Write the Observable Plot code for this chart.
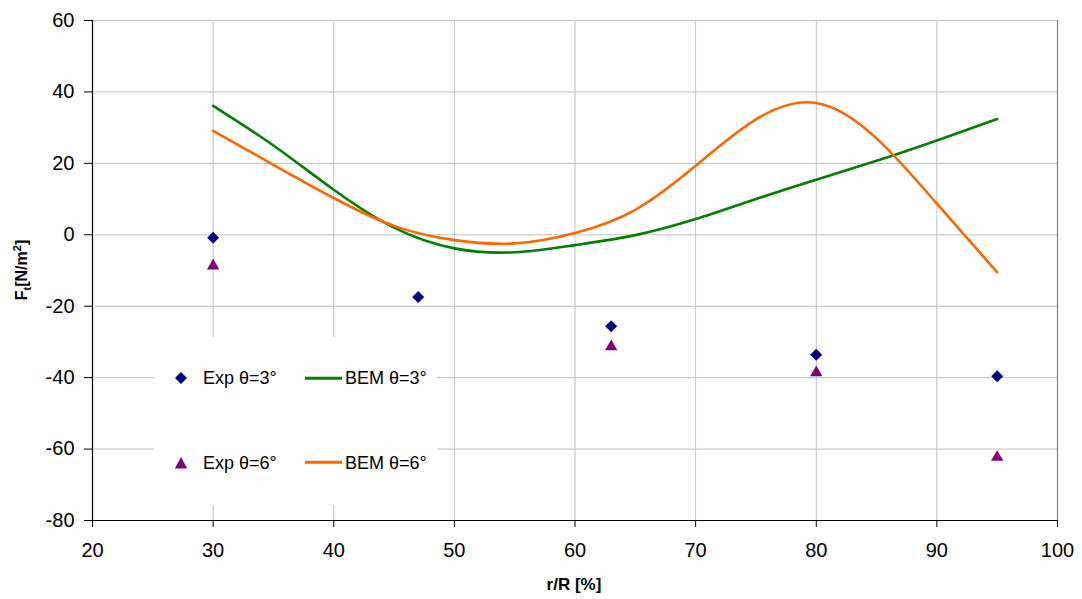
<!DOCTYPE html>
<html>
<head>
<meta charset="utf-8">
<script src="https://cdn.jsdelivr.net/npm/d3@7"></script>
<script src="https://cdn.jsdelivr.net/npm/@observablehq/plot@0.6"></script>
<style>
  html, body { margin: 0; padding: 0; background: #fff; }
  #wrap { position: relative; width: 1082px; height: 599px; font-family: "Liberation Sans", Arial, sans-serif; color: #000; }
  #legend { position: absolute; left: 154px; top: 337px; width: 283px; height: 168px; background: #fff; }
  .lg { position: absolute; font-size: 18px; line-height: 1; white-space: nowrap; transform: translateY(-50%); }
  .sym { position: absolute; transform: translate(-50%, -50%); }
  .ln { position: absolute; height: 2.5px; width: 37px; transform: translateY(-50%); }
  #ytitle { position: absolute; left: 22px; top: 270px; transform: translate(-50%, -50%) rotate(-90deg); font-weight: bold; font-size: 16px; white-space: nowrap; }
  #ytitle sub, #ytitle sup { font-size: 11px; }
  #xtitle { position: absolute; left: 574px; top: 585px; transform: translate(-50%, -50%); font-weight: bold; font-size: 17px; white-space: nowrap; }
</style>
</head>
<body>
<div id="wrap"></div>
<script>
// Tick values
const xTicks = [20, 30, 40, 50, 60, 70, 80, 90, 100];
const yTicks = [-80, -60, -40, -20, 0, 20, 40, 60];

// Experimental points
const expX3 = [30, 47, 63, 80, 95];
const expY3 = [-0.8, -17.4, -25.6, -33.6, -39.6];
const expX6 = [30, 63, 80, 95];
const expY6 = [-8.7, -31.3, -38.6, -62.3];

// BEM curves
const bemX = [30, 35, 40, 45, 50, 55, 60, 65, 70, 75, 80, 85, 90, 95];
const bemY3 = [36.1, 25.0, 12.6, 2.0, -3.8, -4.9, -2.9, -0.1, 4.4, 10.0, 15.4, 20.7, 26.4, 32.4];
const bemY6 = [29.1, 19.6, 10.3, 2.5, -1.5, -2.4, 0.5, 7.0, 19.3, 32.3, 36.9, 27.0, 8.7, -10.5];

const seriesNames = ["Exp θ=3°", "Exp θ=6°", "BEM θ=3°", "BEM θ=6°"];

const exp3 = expX3.map((x, i) => ({x, y: expY3[i]}));
const exp6 = expX6.map((x, i) => ({x, y: expY6[i]}));
const bem3 = bemX.map((x, i) => ({x, y: bemY3[i]}));
const bem6 = bemX.map((x, i) => ({x, y: bemY6[i]}));

const chart = Plot.plot({
  width: 1082,
  height: 599,
  marginLeft: 92,
  marginRight: 25,
  marginTop: 20,
  marginBottom: 79,
  style: {fontFamily: "'Liberation Sans', Arial, sans-serif", fontSize: "20px", color: "#000", background: "#fff", overflow: "visible"},
  x: {domain: [20, 100]},
  y: {domain: [-80, 60]},
  marks: [
    Plot.gridX(xTicks.slice(1, -1), {stroke: "#c0c0c0", strokeOpacity: 1, strokeWidth: 1}),
    Plot.gridY(yTicks.slice(1), {stroke: "#c0c0c0", strokeOpacity: 1, strokeWidth: 1}),
    Plot.ruleX([100], {stroke: "#808080", strokeWidth: 1.2}),
    Plot.axisX({ticks: xTicks, tickSize: 7, tickPadding: 15, label: null, fontSize: 20, tickFormat: d => String(d)}),
    Plot.axisY({ticks: yTicks, tickSize: 8, tickPadding: 10, label: null, fontSize: 20, tickFormat: d => String(d)}),
    Plot.ruleX([20], {stroke: "#000", strokeWidth: 1.2}),
    Plot.ruleY([-80], {stroke: "#000", strokeWidth: 1.2}),
    Plot.line(bem3, {x: "x", y: "y", stroke: "#008000", strokeWidth: 2.6, curve: "natural"}),
    Plot.line(bem6, {x: "x", y: "y", stroke: "#ff6600", strokeWidth: 2.6, curve: "natural"}),
    Plot.dot(exp3, {x: "x", y: "y", symbol: "diamond2", r: 5.4, fill: "#000080", stroke: "none"}),
    Plot.dot(exp6, {x: "x", y: "y", symbol: "triangle", r: 4.6, fill: "#800080", stroke: "none"})
  ]
});

const wrap = document.getElementById("wrap");
wrap.appendChild(chart);

// Legend overlay
const legend = document.createElement("div");
legend.id = "legend";
legend.innerHTML = `
  <svg class="sym" style="left:27px;top:41px" width="14" height="14" viewBox="-7 -7 14 14"><path d="M0,-6L6,0L0,6L-6,0Z" fill="#000080"/></svg>
  <div class="lg" style="left:49px;top:41px">${seriesNames[0]}</div>
  <div class="ln" style="left:151px;top:41px;background:#008000"></div>
  <div class="lg" style="left:191px;top:41px">${seriesNames[2]}</div>
  <svg class="sym" style="left:27px;top:126px" width="14" height="14" viewBox="-7 -7 14 14"><path d="M0,-6L6.2,5.5L-6.2,5.5Z" fill="#800080"/></svg>
  <div class="lg" style="left:49px;top:126px">${seriesNames[1]}</div>
  <div class="ln" style="left:151px;top:125px;background:#ff6600"></div>
  <div class="lg" style="left:191px;top:126px">${seriesNames[3]}</div>
`;
wrap.appendChild(legend);

const yt = document.createElement("div");
yt.id = "ytitle";
yt.innerHTML = "F<sub>t</sub>[N/m<sup>2</sup>]";
wrap.appendChild(yt);

const xt = document.createElement("div");
xt.id = "xtitle";
xt.textContent = "r/R [%]";
wrap.appendChild(xt);
</script>
</body>
</html>
